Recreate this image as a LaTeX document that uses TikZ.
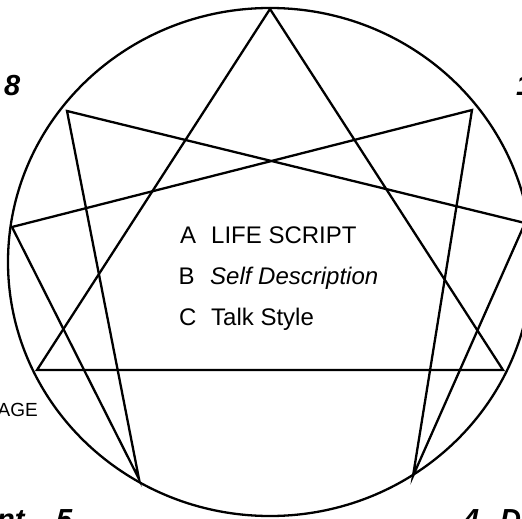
\documentclass[tikz,border=0pt]{standalone}
\usepackage{fontspec}
\setmainfont{Liberation Sans}
\begin{document}
\begin{tikzpicture}[x=1bp,y=-1bp,
  edge/.style={line width=2.3bp, line join=miter},
  lbl/.style={inner sep=0pt, font=\fontsize{24bp}{28bp}\selectfont, anchor=base west},
  side/.style={inner sep=0pt, font=\fontsize{19bp}{22bp}\selectfont, anchor=base east},
  num/.style={inner sep=0pt, font=\fontsize{29bp}{34bp}\selectfont\bfseries\itshape, anchor=base west}]
\useasboundingbox (0,0) rectangle (522,519);
\clip (0,0) rectangle (522,519);
% circle
\draw[edge] (270,262) ellipse [x radius=262, y radius=254];
% vertices
\coordinate (v9) at (270,9);
\coordinate (v1) at (472,110);
\coordinate (v2) at (525,223);
\coordinate (v3) at (503,370);
\coordinate (v4) at (413,476);
\coordinate (v5) at (139,479);
\coordinate (v6) at (37,370);
\coordinate (v7) at (12,227);
\coordinate (v8) at (67,111);
% triangle
\draw[edge] (v9) -- (v3) -- (v6) -- cycle;
% hexad
\draw[edge] (v1) -- (v4) -- (v2) -- (v8) -- (v5) -- (v7) -- cycle;
% centre text
\node[lbl] (la) at (180,243) {A};
\node[lbl] (ta) at (211,243) {LIFE SCRIPT};
\node[lbl] (lb) at (178.5,284) {B};
\node[lbl] (tb) at (210,284) {\itshape Self Description};
\node[lbl] (lc) at (179,325) {C};
\node[lbl] (tc) at (211,325) {Talk Style};
% outer labels
\node[num] (n8) at (4,96) {8};
\node[num] (n1) at (516,96) {1};
\node[side] (age) at (38,416) {AGE};
\node[num] (nt) at (-3,529) {nt};
\node[num] (n5) at (56,529) {5};
\node[num] (n4) at (463,529) {4};
\node[num] (nd) at (500,529) {D};
\end{tikzpicture}
\end{document}
